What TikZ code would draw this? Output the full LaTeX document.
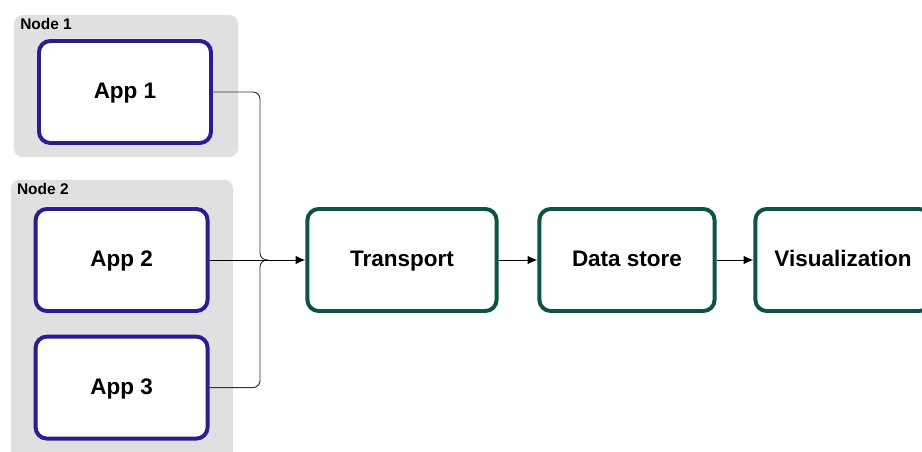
\documentclass[tikz,border=0pt]{standalone}
\usepackage{fontspec}
\setmainfont{Liberation Sans}
\usepackage{xcolor}
\usepackage{tikz}
\usetikzlibrary{arrows.meta, positioning, calc}
\definecolor{apppurple}{RGB}{46,26,146}
\definecolor{stagegreen}{RGB}{12,84,70}
\definecolor{groupgray}{RGB}{224,224,224}
\tikzstyle{group} = [rectangle, rounded corners=6pt, fill=groupgray, draw=none]
\tikzstyle{grouplabel} = [anchor=north west, inner sep=0pt, font=\fontsize{11}{13}\selectfont\bfseries]
\tikzstyle{app} = [rectangle, rounded corners=8pt, minimum width=4.3cm, minimum height=2.55cm, text centered, text height=1em, text depth=0.04em, draw=apppurple, line width=2.8pt, fill=white, font=\fontsize{16}{19}\selectfont\bfseries]
\tikzstyle{stage} = [rectangle, rounded corners=8pt, minimum height=2.55cm, text centered, text height=1em, text depth=0.04em, draw=stagegreen, line width=2.8pt, fill=white, font=\fontsize{16}{19}\selectfont\bfseries]
\tikzstyle{conn} = [line width=0.7pt, black!80, rounded corners=5pt]
\tikzstyle{arrow} = [line width=0.7pt, -{Latex[length=7pt,width=6pt]}]

\begin{document}
\begin{tikzpicture}
\clip (0,0) rectangle (23.05,-11.3);
\fill[white] (0,0) rectangle (23.05,-11.3);
% host groups
\node (node1) [group, minimum width=5.6cm, minimum height=3.55cm] at (3.15,-2.15) {};
\node (node2) [group, minimum width=5.55cm, minimum height=7cm] at (3.05,-8.0) {};
\node (lbl1) [grouplabel] at (0.5,-0.45) {Node 1};
\node (lbl2) [grouplabel] at (0.42,-4.58) {Node 2};
% applications
\node (app1) [app] at (3.125,-2.3) {App 1};
\node (app2) [app] at (3.04,-6.5) {App 2};
\node (app3) [app] at (3.04,-9.69) {App 3};
% pipeline
\node (transport) [stage, minimum width=4.73cm] at (10.05,-6.5) {Transport};
\node (store) [stage, minimum width=4.38cm] at (15.675,-6.5) {Data store};
\node (vis) [stage, minimum width=4.38cm] at (21.075,-6.5) {Visualization};

\coordinate (merge) at (6.7,-6.5);
\draw [conn] (app1.east) -| ([xshift=-0.2cm]merge) -- (merge);
\draw [conn] (app3.east) -| ([xshift=-0.2cm]merge) -- (merge);
\draw [arrow] (app2.east) -- (transport.west);
\draw [arrow] (transport) -- (store);
\draw [arrow] (store) -- (vis);
\end{tikzpicture}
\end{document}
